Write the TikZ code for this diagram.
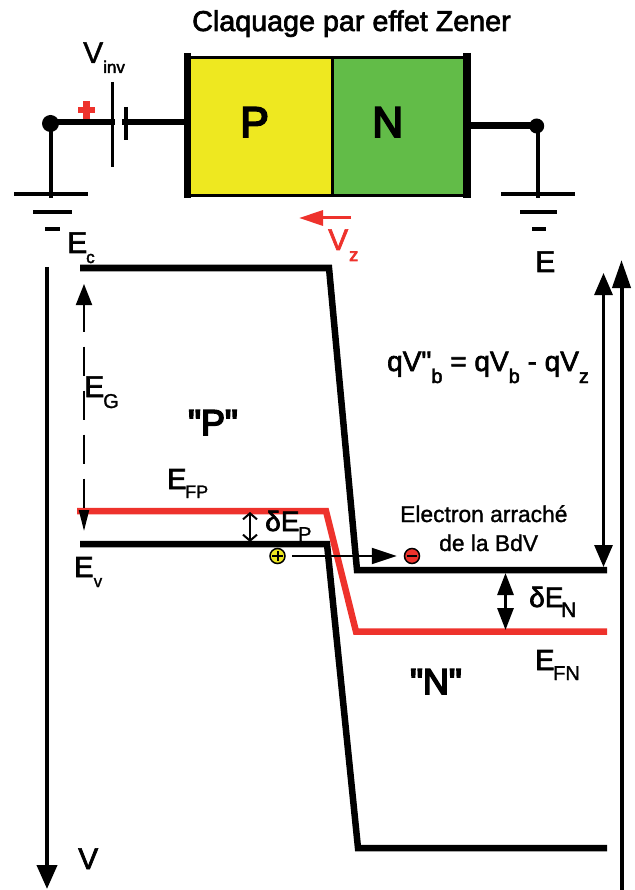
\documentclass[tikz,border=0pt]{standalone}
\usepackage{fontspec}
\setmainfont{Liberation Sans}
\newfontfamily\hvl[FakeBold=1.3]{Liberation Sans}
\newfontfamily\hv[FakeBold=2.3]{Liberation Sans}
\newfontfamily\hvb[FakeBold=4.5]{Liberation Sans}
\usetikzlibrary{arrows.meta}
\definecolor{pyel}{RGB}{238,232,32}
\definecolor{ngrn}{RGB}{98,188,72}
\definecolor{rd}{RGB}{238,50,44}
\newcommand{\fs}[1]{\fontsize{#1}{#1}\selectfont}
\newcommand{\sbb}[1]{\raisebox{-12pt}{\fs{20}#1}}
\tikzset{
 x=1pt,y=-1pt,
 lbl/.style={inner sep=0,anchor=base west,text=black},
 wire/.style={line width=6.5pt},
 stem/.style={line width=4pt},
 band/.style={line width=6.5pt,line join=miter},
 redband/.style={band,draw=rd},
 gnd/.style={line width=3.5pt},
 devbox/.style={draw=black,line width=3pt,inner sep=0,anchor=north west,minimum height=138pt},
}
\begin{document}
\begin{tikzpicture}
\useasboundingbox (0,0) rectangle (634,890);
% title
\node[lbl] (title) at (192,31) {\fs{28.7}\hv Claquage par effet Zener};
% device
\node[devbox,fill=pyel,minimum width=144pt] (P) at (187,56) {};
\node[devbox,fill=ngrn,minimum width=136pt] (N) at (331,56) {};
\node[lbl] (Pt) at (240,137) {\fs{43}\hvb P};
\node[lbl] (Nt) at (372,137) {\fs{43}\hvb N};
\draw[line width=6.5pt] (187.3,53) -- (187.3,198);
\draw[line width=7.5pt] (467,53) -- (467,198);
% left circuit
\coordinate (dl) at (50.5,123.5);
\coordinate (wl1) at (50.5,122);
\coordinate (pl1) at (115,122);
\coordinate (pl2) at (122,122);
\fill (dl) circle (8.5pt);
\draw[wire] (wl1) -- (pl1);
\draw[wire] (pl2) -- (P.west |- pl2);
\draw[line width=3pt] (112.5,82) -- (112.5,167);
\draw[line width=4pt] (126,107) -- (126,140);
\draw[stem] (51,122) -- (51,198);
\draw[gnd] (14,194) -- (88,194);
\draw[gnd] (33,212) -- (72,212);
\draw[gnd] (45,229) -- (60,229);
\draw[rd,line width=6.5pt] (78,110) -- (95,110) (86.7,101) -- (86.7,119);
\node[lbl] (Vinv) at (83,63) {\fs{30}\hvl V};
\node[lbl] (Vinvs) at (103,73) {\fs{17}\hv inv};
% right circuit
\coordinate (dr) at (536.7,126);
\coordinate (wr) at (536.7,125.3);
\fill (dr) circle (7.5pt);
\draw[wire] (N.east |- wr) -- (wr);
\draw[stem] (538,125) -- (538,198);
\draw[gnd] (501,194) -- (575,194);
\draw[gnd] (520,212) -- (557,212);
\draw[gnd] (532,229) -- (546,229);
\node[lbl] (Et) at (535,272) {\fs{30}\hv E};
% Vz
\coordinate (vza) at (351,218);
\coordinate (vzb) at (299,218);
\draw[rd,line width=3pt,-{Triangle[length=24pt,width=15pt]}] (vza) -- (vzb);
\node[lbl,text=rd] (Vz) at (328,250) {\fs{30}\hv V};
\node[lbl,text=rd] (Vzs) at (349,261) {\fs{18}\hvb z};
% axes
\coordinate (la1) at (47,267);
\coordinate (la2) at (47,889);
\draw[line width=4pt,-{Triangle[length=24pt,width=20pt]}] (la1) -- (la2);
\coordinate (ra1) at (621.5,890);
\coordinate (ra2) at (621.5,260);
\draw[line width=4pt,-{Triangle[length=28pt,width=18pt]}] (ra1) -- (ra2);
\draw[line width=3pt,{Triangle[length=22pt,width=18pt]}-{Triangle[length=22pt,width=18pt]}] (603.5,273) -- (603.5,567);
% bands
\draw[band] (80,268) -- (329,268) -- (357,570) -- (607,570);
\draw[band] (80,544) -- (327,544) -- (358,848) -- (607,848);
\draw[redband] (77,511) -- (326,511) -- (356,631.5) -- (607,631.5);
% labels left
\node[lbl] (Ec) at (67,253) {\fs{30}\hv E};
\node[lbl] (Ecs) at (86,263) {\fs{17}\hv c};
\node[lbl] (EG) at (84,397) {\fs{30}\hv E};
\node[lbl] (EGs) at (103,408) {\fs{20}\hvl G};
\node[lbl] (PP) at (188,435) {\fs{36}\hvb\char34 P\char34};
\node[lbl] (EFP) at (167,489) {\fs{29}\hv E};
\node[lbl] (EFPs) at (185,498) {\fs{18}\hvl FP};
\node[lbl] (Ev) at (74,577) {\fs{29}\hv E};
\node[lbl] (Evs) at (93.5,587) {\fs{17}\hvl v};
\node[lbl] (dEP) at (265,531) {\fs{28}\hv δE};
\node[lbl] (dEPs) at (298,541) {\fs{20}\hvl P};
\node[lbl] (V) at (78,869) {\fs{30}\hv V};
% EG arrow
\coordinate (ega) at (84,284);
\coordinate (egb) at (84,531);
\draw[line width=2pt,dash pattern=on 29pt off 15pt,dash phase=2pt,{Triangle[length=21pt,width=16pt]}-{Triangle[length=21pt,width=10pt]}] (ega) -- (egb);
% dEP arrow
\draw[line width=2pt,{Straight Barb[length=6pt,width=14pt]}-{Straight Barb[length=6pt,width=14pt]}] (250,512) -- (250,542);
% carriers
\node[circle,fill=pyel,draw=black,line width=1.5pt,minimum size=15pt,inner sep=0] (h) at (277.5,556) {};
\draw[line width=2pt] (272,556) -- (283,556) (277.5,551) -- (277.5,561);
\node[circle,fill=rd,draw=black,line width=1.5pt,minimum size=15pt,inner sep=0] (e) at (412,556) {};
\draw[line width=2pt] (407,556) -- (417,556);
\coordinate (hs) at (292,556);
\draw[line width=2pt,shorten >=7pt,-{Triangle[length=25pt,width=16pt]}] (hs) -- (e.west);
% right labels
\node[lbl] (qV) at (387,371) {\fs{28}\hv qV\char34\sbb{b} = qV\sbb{b} - qV\sbb{z}};
\node[lbl] (el1) at (400,522) {\fs{22.8}\hvl Electron arraché};
\node[lbl] (el2) at (439,551) {\fs{22.8}\hvl de la BdV};
\draw[line width=3pt,{Triangle[length=22pt,width=16pt]}-{Triangle[length=22pt,width=16pt]}] (505.5,573) -- (505.5,630);
\node[lbl] (dEN) at (529,607) {\fs{28}\hv δE};
\node[lbl] (dENs) at (561,617) {\fs{21}\hv N};
\node[lbl] (NN) at (410,694) {\fs{36}\hvb\char34 N\char34};
\node[lbl] (EFN) at (535,670) {\fs{29}\hv E};
\node[lbl] (EFNs) at (553,680) {\fs{20}\hvl FN};
\end{tikzpicture}
\end{document}
